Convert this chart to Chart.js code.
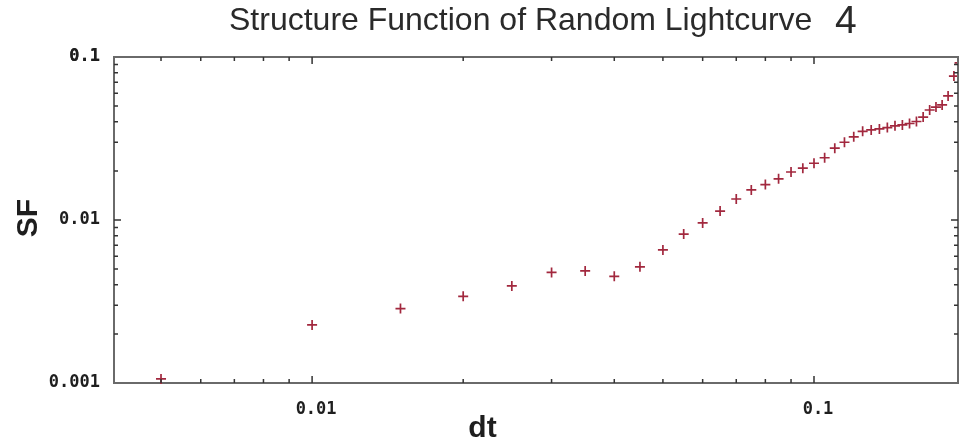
<!DOCTYPE html>
<html>
<head>
<meta charset="utf-8">
<title>Structure Function of Random Lightcurve 4</title>
<script src="https://cdn.jsdelivr.net/npm/chart.js@4/dist/chart.umd.min.js"></script>
<style>
  html, body { margin: 0; padding: 0; background: #fff; overflow: hidden; }
  #wrap { position: relative; width: 959px; height: 444px; }
</style>
</head>
<body>
<div id="wrap"><canvas id="sfChart"></canvas></div>
<script>
'use strict';

// time lag and structure function of lightcurve 4
const dt = [
  0.005, 0.010, 0.015, 0.020, 0.025, 0.030, 0.035, 0.040, 0.045, 0.050,
  0.055, 0.060, 0.065, 0.070, 0.075, 0.080, 0.085, 0.090, 0.095, 0.100,
  0.105, 0.110, 0.115, 0.120, 0.125, 0.130, 0.135, 0.140, 0.145, 0.150,
  0.155, 0.160, 0.165, 0.170, 0.175, 0.180, 0.185, 0.190, 0.195
];
const sf = [
  0.00106, 0.00227, 0.00286, 0.00340, 0.00394, 0.00477, 0.00487, 0.00451, 0.00516, 0.00655,
  0.00820, 0.00960, 0.01135, 0.01345, 0.01530, 0.01650, 0.01790, 0.01970, 0.02080, 0.02230,
  0.02410, 0.02760, 0.03000, 0.03240, 0.03500, 0.03570, 0.03620, 0.03690, 0.03780, 0.03830,
  0.03910, 0.04020, 0.04280, 0.04730, 0.04930, 0.05080, 0.05770, 0.07640, 0.09200
];

// axis ranges and labelled decades
const xRange = [0.00403, 0.1936];
const yRange = [0.001, 0.1];
const xLabels = [0.01, 0.1];
const yLabels = [0.001, 0.01, 0.1];

const AXIS = '#6a6a6a';
const INK = '#1e1e1e';
const MARK = '#a2283e';

// 1..9 x 10^k tick values between two exponents
function logTicks(fromExp, toExp) {
  const out = [];
  for (let e = fromExp; e <= toExp; e++) {
    for (let m = 1; m <= 9; m++) out.push(+(m * Math.pow(10, e)).toPrecision(3));
  }
  return out;
}

const isDecade = v => Math.abs(Math.log10(v) - Math.round(Math.log10(v))) < 1e-6;
const hasLabel = (list, v) => list.some(l => Math.abs(l - v) / l < 1e-6);

// frame, inward ticks and text
const decorations = {
  id: 'decorations',
  afterDraw(chart) {
    const { ctx, chartArea: a, scales: { x, y } } = chart;
    ctx.save();

    ctx.strokeStyle = AXIS;
    ctx.lineWidth = 2;
    ctx.beginPath();
    ctx.moveTo(a.left, a.top);
    ctx.lineTo(a.right, a.top);
    ctx.lineTo(a.right, a.bottom);
    ctx.stroke();

    ctx.strokeStyle = '#333';
    ctx.lineWidth = 1.5;
    ctx.beginPath();
    x.ticks.forEach(t => {
      const px = x.getPixelForValue(t.value);
      if (px <= a.left + 1 || px >= a.right - 1) return;
      const len = isDecade(t.value) ? 7 : 4;
      ctx.moveTo(px, a.bottom); ctx.lineTo(px, a.bottom - len);
      ctx.moveTo(px, a.top); ctx.lineTo(px, a.top + len);
    });
    y.ticks.forEach(t => {
      const py = y.getPixelForValue(t.value);
      if (py <= a.top + 1 || py >= a.bottom - 1) return;
      const len = isDecade(t.value) ? 7 : 4;
      ctx.moveTo(a.left, py); ctx.lineTo(a.left + len, py);
      ctx.moveTo(a.right, py); ctx.lineTo(a.right - len, py);
    });
    ctx.stroke();

    // chart title, the number set a size larger
    ctx.fillStyle = '#2a2a2a';
    ctx.textBaseline = 'alphabetic';
    ctx.textAlign = 'left';
    ctx.font = '32px "Liberation Sans", Arial, sans-serif';
    ctx.fillText('Structure Function of Random Lightcurve', 229, 30);
    ctx.font = '39px "Liberation Sans", Arial, sans-serif';
    ctx.fillText('4', 835, 33);

    // axis titles
    ctx.fillStyle = INK;
    ctx.font = 'bold 30px "Liberation Sans", Arial, sans-serif';
    ctx.textAlign = 'center';
    ctx.fillText('dt', chart.width / 2 + 3, 437);
    ctx.translate(37, (a.top + a.bottom) / 2 - 2);
    ctx.rotate(-Math.PI / 2);
    ctx.fillText('SF', 0, 0);

    ctx.restore();
  }
};

const tickFont = { family: '"DejaVu Sans Mono", monospace', size: 17, weight: 'bold' };

new Chart(document.getElementById('sfChart'), {
  type: 'scatter',
  data: {
    datasets: [{
      data: dt.map((v, i) => ({ x: v, y: sf[i] })),
      pointStyle: 'cross',
      pointRadius: 5,
      pointBorderWidth: 1.7,
      borderColor: MARK,
      backgroundColor: MARK,
      clip: false
    }]
  },
  options: {
    responsive: true,
    maintainAspectRatio: false,
    animation: false,
    layout: { autoPadding: false, padding: { top: 57, right: 1, left: 0, bottom: 0 } },
    plugins: { legend: { display: false }, tooltip: { enabled: false } },
    scales: {
      x: {
        type: 'logarithmic',
        min: xRange[0],
        max: xRange[1],
        afterBuildTicks: s => { s.ticks = logTicks(-3, -1).filter(v => v > xRange[0] && v < xRange[1]).map(v => ({ value: v })); },
        afterFit: s => { s.height = 61; s.paddingLeft = 0; s.paddingRight = 0; },
        border: { display: true, color: AXIS, width: 2 },
        grid: { display: true, drawOnChartArea: false, drawTicks: false },
        ticks: {
          color: INK,
          font: tickFont,
          padding: 16,
          labelOffset: 4,
          autoSkip: false,
          maxRotation: 0,
          callback: v => hasLabel(xLabels, v) ? String(+v.toPrecision(3)) : ''
        }
      },
      y: {
        type: 'logarithmic',
        min: yRange[0],
        max: yRange[1],
        afterBuildTicks: s => { s.ticks = logTicks(-3, -1).concat([0.1]).filter(v => v >= yRange[0] && v <= yRange[1]).map(v => ({ value: v })); },
        afterFit: s => { s.width = 114; },
        border: { display: true, color: AXIS, width: 2 },
        grid: { display: true, drawOnChartArea: false, drawTicks: false },
        ticks: {
          color: INK,
          font: tickFont,
          padding: 14,
          autoSkip: false,
          callback: v => hasLabel(yLabels, v) ? String(+v.toPrecision(3)) : ''
        }
      }
    }
  },
  plugins: [decorations]
});
</script>
</body>
</html>
